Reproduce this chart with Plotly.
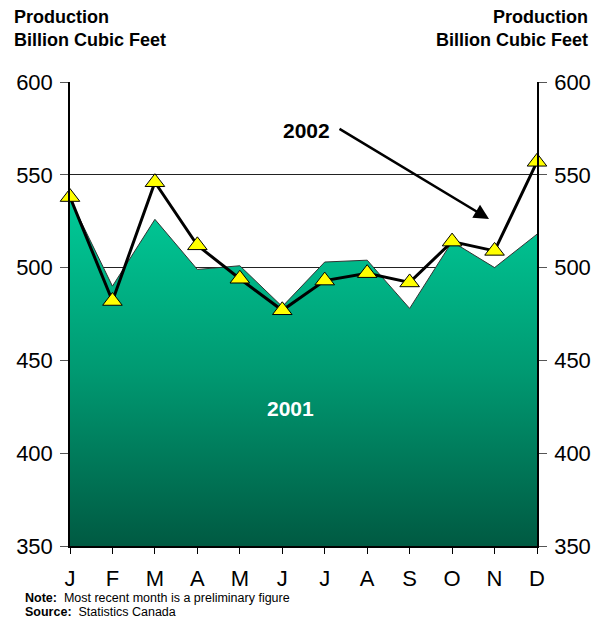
import plotly.graph_objects as go

months = ["J", "F", "M", "A", "M", "J", "J", "A", "S", "O", "N", "D"]
prod_2001 = [537, 490, 526, 499, 501, 479, 503, 504, 478, 514, 500, 518]
prod_2002 = [538, 482, 546, 512, 494, 477, 493, 497, 492, 514, 509, 557]
y_ticks = [350, 400, 450, 500, 550, 600]

xs = list(range(len(months)))
FONT = "Arial, 'Liberation Sans', sans-serif"

fig = go.Figure()
fig.add_trace(go.Scatter(
    x=xs, y=prod_2001, mode="lines", fill="tozeroy",
    line=dict(color="#333333", width=1),
    fillgradient=dict(type="vertical", start=350, stop=540,
                      colorscale=[[0, "#005a42"], [0.5, "#009a72"], [1, "#00cc99"]]),
    showlegend=False, hoverinfo="skip"))
fig.add_trace(go.Scatter(
    x=xs, y=prod_2002, mode="lines+markers", cliponaxis=False,
    line=dict(color="black", width=3),
    marker=dict(symbol="triangle-up", size=17, color="#ffff00",
                line=dict(color="black", width=1)),
    showlegend=False))
fig.add_trace(go.Scatter(
    x=xs, y=prod_2002, yaxis="y2", mode="lines", opacity=0,
    showlegend=False, hoverinfo="skip"))

yax = dict(range=[350, 600], tickvals=y_ticks, showgrid=True, gridcolor="#222222",
           gridwidth=1, zeroline=False, showline=True, linecolor="black", linewidth=1.5,
           ticks="outside", ticklen=8, tickcolor="#555555",
           tickfont=dict(family=FONT, size=22, color="black"), ticklabelstandoff=3)
fig.update_layout(
    width=602, height=618,
    margin=dict(l=70, r=65, t=82, b=72),
    plot_bgcolor="white", paper_bgcolor="white",
    xaxis=dict(range=[0, 11], tickvals=xs, ticktext=months, showgrid=False,
               zeroline=False, showline=True, linecolor="black", linewidth=2,
               ticks="outside", ticklen=6, tickcolor="black",
               tickfont=dict(family=FONT, size=22, color="black"), ticklabelstandoff=6),
    yaxis=yax,
    yaxis2=dict(yax, overlaying="y", side="right", showgrid=False),
)

def px2x(px):
    return (px - 70) / 467 * 11

def py2y(py):
    return 600 - (py - 82) / 464 * 250

annos = [
    dict(text="<b>Production<br>Billion Cubic Feet</b>", xref="paper", yref="paper",
         x=(12 - 70) / 467, y=(546 - 5) / 464, xanchor="left", yanchor="top",
         align="left", showarrow=False, font=dict(family=FONT, size=18, color="black")),
    dict(text="<b>Production<br>Billion Cubic Feet</b>", xref="paper", yref="paper",
         x=(590 - 70) / 467, y=(546 - 5) / 464, xanchor="right", yanchor="top",
         align="right", showarrow=False, font=dict(family=FONT, size=18, color="black")),
    dict(text="<b>2002</b>", x=px2x(306), y=py2y(130), showarrow=False,
         font=dict(family=FONT, size=21, color="black")),
    dict(text="", x=px2x(489), y=py2y(219), ax=px2x(338), ay=py2y(128),
         axref="x", ayref="y", showarrow=True, arrowhead=2, arrowsize=1.2,
         arrowwidth=2.5, arrowcolor="black"),
    dict(text="<b>2001</b>", x=px2x(290), y=py2y(408), showarrow=False,
         font=dict(family=FONT, size=21, color="white")),
    dict(text="<b>Note:</b>  Most recent month is a preliminary figure", xref="paper",
         yref="paper", x=(23 - 70) / 467, y=(546 - 598) / 464, xanchor="left",
         yanchor="middle", showarrow=False, font=dict(family=FONT, size=12.5, color="black")),
    dict(text="<b>Source:</b>  Statistics Canada", xref="paper",
         yref="paper", x=(23 - 70) / 467, y=(546 - 612) / 464, xanchor="left",
         yanchor="middle", showarrow=False, font=dict(family=FONT, size=12.5, color="black")),
]
fig.update_layout(annotations=annos)
fig.write_html("out.html")
